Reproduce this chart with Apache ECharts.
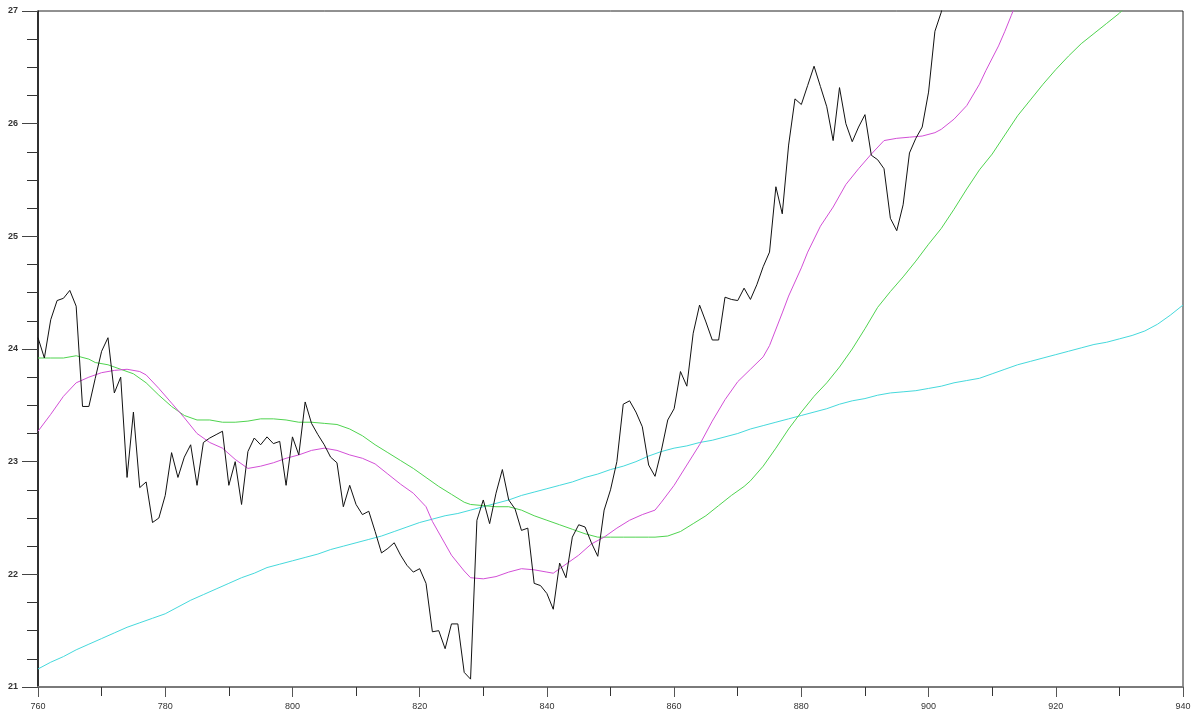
<!DOCTYPE html>
<html>
<head>
<meta charset="utf-8">
<style>
  html, body { margin: 0; padding: 0; background: #ffffff; }
  #chart { width: 1198px; height: 714px; }
</style>
<script src="https://cdn.jsdelivr.net/npm/echarts@6/dist/echarts.min.js"></script>
</head>
<body>
<div id="chart"></div>
<script>
// Daily closing price, one value per day starting at day 760
const priceStartDay = 760;
const price = [
  24.10, 23.92, 24.26, 24.43, 24.45, 24.52, 24.38, 23.49, 23.49, 23.74,
  23.98, 24.10, 23.61, 23.75, 22.86, 23.44, 22.77, 22.82, 22.46, 22.50,
  22.70, 23.08, 22.86, 23.04, 23.15, 22.79, 23.17, 23.21, 23.24, 23.27,
  22.79, 23.00, 22.62, 23.09, 23.21, 23.15, 23.22, 23.16, 23.18, 22.79,
  23.22, 23.06, 23.53, 23.34, 23.24, 23.15, 23.04, 22.99, 22.60, 22.79,
  22.62, 22.53, 22.56, 22.38, 22.19, 22.23, 22.28, 22.17, 22.08, 22.02,
  22.05, 21.92, 21.49, 21.50, 21.34, 21.56, 21.56, 21.13, 21.07, 22.48,
  22.66, 22.45, 22.72, 22.93, 22.66, 22.58, 22.39, 22.41, 21.92, 21.90,
  21.83, 21.69, 22.10, 21.97, 22.33, 22.44, 22.42, 22.28, 22.16, 22.57,
  22.75, 23.00, 23.51, 23.54, 23.44, 23.31, 22.97, 22.87, 23.10, 23.37,
  23.47, 23.80, 23.67, 24.14, 24.39, 24.24, 24.08, 24.08, 24.46, 24.44,
  24.43, 24.54, 24.44, 24.57, 24.73, 24.86, 25.44, 25.20, 25.81, 26.22,
  26.17, 26.34, 26.51, 26.33, 26.15, 25.85, 26.32, 26.00, 25.84, 25.97,
  26.08, 25.72, 25.68, 25.60, 25.16, 25.05, 25.28, 25.74, 25.87, 25.97,
  26.28, 26.82, 26.99, 27.30
];

// Short moving average (magenta): [day, value]
const shortAvg = [
  [760, 23.27], [762, 23.42], [764, 23.58], [766, 23.70], [768, 23.75],
  [770, 23.79], [772, 23.81], [774, 23.82], [776, 23.80], [777, 23.77],
  [779, 23.65], [781, 23.52], [783, 23.39], [785, 23.25], [787, 23.17],
  [789, 23.12], [791, 23.02], [793, 22.94], [795, 22.96], [797, 22.99],
  [799, 23.03], [801, 23.06], [803, 23.10], [805, 23.12], [807, 23.10],
  [809, 23.06], [811, 23.03], [813, 22.98], [815, 22.89], [817, 22.80],
  [819, 22.72], [821, 22.60], [822, 22.47], [824, 22.27], [825, 22.17],
  [827, 22.03], [828, 21.97], [830, 21.96], [832, 21.98], [834, 22.02],
  [836, 22.05], [838, 22.04], [840, 22.02], [841, 22.01], [843, 22.09],
  [845, 22.17], [847, 22.27], [849, 22.33], [851, 22.41], [853, 22.48],
  [855, 22.53], [857, 22.57], [858, 22.64], [860, 22.79], [862, 22.97],
  [864, 23.15], [866, 23.36], [868, 23.55], [870, 23.71], [872, 23.82],
  [874, 23.93], [875, 24.03], [877, 24.32], [878, 24.47], [880, 24.72],
  [881, 24.86], [883, 25.09], [885, 25.26], [887, 25.46], [889, 25.60],
  [891, 25.73], [893, 25.85], [895, 25.87], [897, 25.88], [899, 25.89],
  [901, 25.92], [902, 25.95], [904, 26.04], [906, 26.16], [908, 26.35],
  [909, 26.47], [911, 26.69], [912, 26.82], [913, 26.96], [915, 27.25]
];

// Medium moving average (green): [day, value]
const mediumAvg = [
  [760, 23.92], [762, 23.92], [764, 23.92], [766, 23.94], [768, 23.91],
  [769, 23.88], [771, 23.86], [773, 23.82], [775, 23.78], [777, 23.70],
  [779, 23.59], [781, 23.49], [783, 23.41], [785, 23.37], [787, 23.37],
  [789, 23.35], [791, 23.35], [793, 23.36], [795, 23.38], [797, 23.38],
  [799, 23.37], [801, 23.35], [803, 23.35], [805, 23.34], [807, 23.33],
  [809, 23.29], [811, 23.23], [813, 23.15], [815, 23.08], [817, 23.01],
  [819, 22.94], [821, 22.86], [823, 22.78], [825, 22.71], [827, 22.64],
  [828, 22.62], [830, 22.61], [832, 22.60], [834, 22.60], [836, 22.57],
  [838, 22.52], [840, 22.48], [842, 22.44], [844, 22.40], [846, 22.36],
  [848, 22.33], [850, 22.33], [852, 22.33], [854, 22.33], [856, 22.33],
  [857, 22.33], [859, 22.34], [861, 22.38], [863, 22.45], [865, 22.52],
  [867, 22.61], [869, 22.70], [871, 22.78], [872, 22.83], [874, 22.96],
  [876, 23.12], [878, 23.29], [880, 23.44], [882, 23.58], [884, 23.70],
  [886, 23.84], [888, 24.00], [890, 24.18], [892, 24.37], [894, 24.51],
  [896, 24.64], [898, 24.78], [900, 24.93], [902, 25.07], [904, 25.24],
  [906, 25.42], [908, 25.59], [910, 25.73], [912, 25.90], [914, 26.07],
  [916, 26.21], [918, 26.35], [920, 26.48], [922, 26.60], [924, 26.71],
  [926, 26.80], [928, 26.89], [930, 26.98], [932, 27.10]
];

// Long moving average (cyan): [day, value]
const longAvg = [
  [760, 21.16], [762, 21.22], [764, 21.27], [766, 21.33], [768, 21.38],
  [770, 21.43], [772, 21.48], [774, 21.53], [776, 21.57], [778, 21.61],
  [780, 21.65], [782, 21.71], [784, 21.77], [786, 21.82], [788, 21.87],
  [790, 21.92], [792, 21.97], [794, 22.01], [796, 22.06], [798, 22.09],
  [800, 22.12], [802, 22.15], [804, 22.18], [806, 22.22], [808, 22.25],
  [810, 22.28], [812, 22.31], [814, 22.34], [816, 22.38], [818, 22.42],
  [820, 22.46], [822, 22.49], [824, 22.52], [826, 22.54], [828, 22.57],
  [830, 22.60], [832, 22.63], [834, 22.66], [836, 22.70], [838, 22.73],
  [840, 22.76], [842, 22.79], [844, 22.82], [846, 22.86], [848, 22.89],
  [850, 22.93], [852, 22.96], [854, 23.00], [856, 23.05], [858, 23.09],
  [860, 23.12], [862, 23.14], [864, 23.17], [866, 23.19], [868, 23.22],
  [870, 23.25], [872, 23.29], [874, 23.32], [876, 23.35], [878, 23.38],
  [880, 23.41], [882, 23.44], [884, 23.47], [886, 23.51], [888, 23.54],
  [890, 23.56], [892, 23.59], [894, 23.61], [896, 23.62], [898, 23.63],
  [900, 23.65], [902, 23.67], [904, 23.70], [906, 23.72], [908, 23.74],
  [910, 23.78], [912, 23.82], [914, 23.86], [916, 23.89], [918, 23.92],
  [920, 23.95], [922, 23.98], [924, 24.01], [926, 24.04], [928, 24.06],
  [930, 24.09], [932, 24.12], [934, 24.16], [936, 24.22], [938, 24.30],
  [940, 24.39]
];

const priceSeries = price.map((v, i) => [priceStartDay + i, v]);

function lineSeries(data, color, z) {
  return {
    type: 'line',
    data: data,
    showSymbol: false,
    symbol: 'none',
    clip: true,
    z: z,
    lineStyle: { color: color, width: 1 },
    emphasis: { disabled: true }
  };
}

const chart = echarts.init(document.getElementById('chart'), null, { renderer: 'canvas' });
chart.setOption({
  animation: false,
  backgroundColor: '#ffffff',
  grid: {
    left: 38, right: 15, top: 11, bottom: 27,
    show: true, borderColor: '#222222', borderWidth: 1, backgroundColor: 'transparent'
  },
  xAxis: {
    type: 'value',
    min: 760, max: 940, interval: 20,
    axisLine: { show: true, onZero: false, lineStyle: { color: '#7a7a7a', width: 2 } },
    axisTick: { show: true, inside: false, length: 10, lineStyle: { color: '#555555', width: 1 } },
    minorTick: { show: true, splitNumber: 2, length: 9, lineStyle: { color: '#333333', width: 1 } },
    axisLabel: { color: '#333333', fontSize: 9, fontFamily: 'Arial', margin: 15 },
    splitLine: { show: false }
  },
  yAxis: {
    type: 'value',
    min: 21, max: 27, interval: 1,
    axisLine: { show: true, onZero: false, lineStyle: { color: '#111111', width: 1.5 } },
    axisTick: { show: true, inside: false, length: 16, lineStyle: { color: '#444444', width: 1 } },
    minorTick: { show: true, splitNumber: 4, length: 11, lineStyle: { color: '#333333', width: 1 } },
    axisLabel: { color: '#333333', fontSize: 9, fontFamily: 'Arial', fontWeight: 'bold', margin: 20 },
    splitLine: { show: false }
  },
  series: [
    lineSeries(longAvg, '#45d9dc', 2),
    lineSeries(mediumAvg, '#4fd34f', 3),
    lineSeries(shortAvg, '#d24fd6', 4),
    lineSeries(priceSeries, '#111111', 5)
  ]
});
</script>
</body>
</html>
